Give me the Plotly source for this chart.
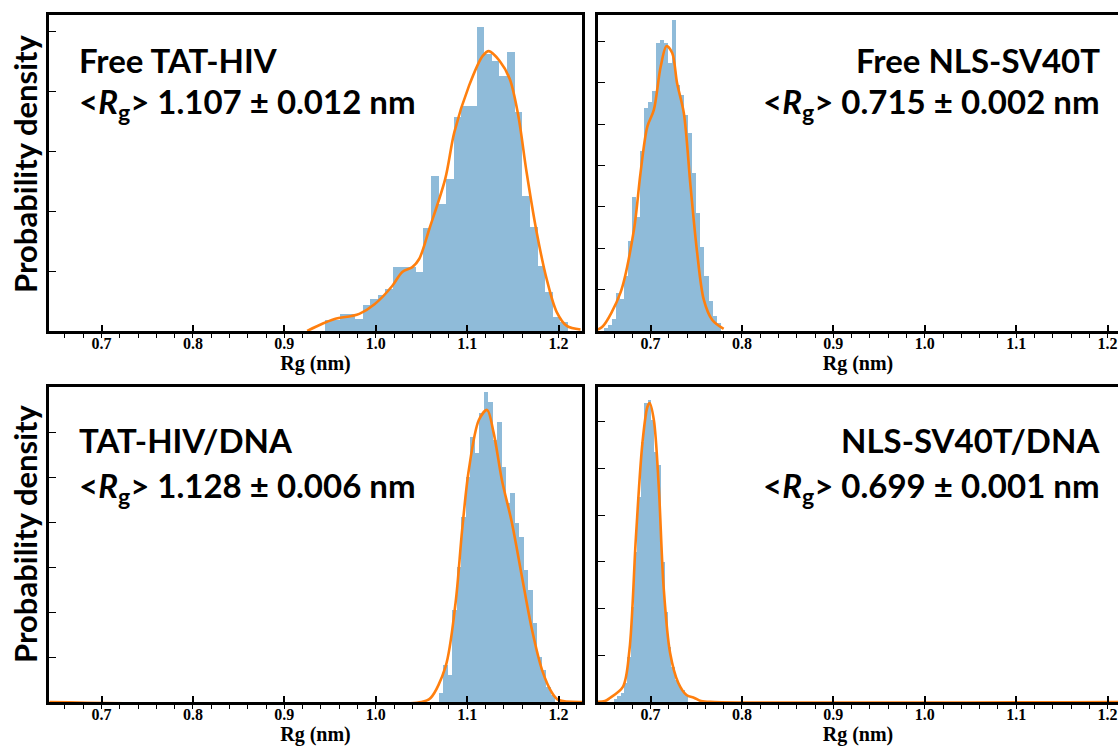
import plotly.graph_objects as go

W, H = 1118, 747

# ---------------- data ----------------
# Free TAT-HIV histogram (density)
tl_bin_start = 0.944
tl_bin_width = 0.00832
tl_heights = [0.37, 0.37, 0.57, 0.57, 0.40, 0.87, 1.07, 1.20, 1.40, 2.13, 2.13, 2.13,
              1.97, 3.43, 5.17, 4.23, 5.07, 7.13, 7.50, 7.50, 10.13, 9.23, 9.00, 8.50,
              9.30, 7.30, 4.50, 3.47, 2.17, 1.30, 0.47, 0.30]
tl_kde_x = [0.925, 0.935, 0.955, 0.9735, 0.982, 0.999, 1.018, 1.029, 1.040, 1.0475, 1.0586,
            1.076, 1.086, 1.102, 1.117, 1.1238, 1.1356, 1.1466, 1.156, 1.165, 1.176, 1.187,
            1.198, 1.209, 1.224]
tl_kde_y = [0.0, 0.15, 0.40, 0.50, 0.57, 0.90, 1.50, 1.97, 2.13, 2.40, 3.40, 5.07, 6.63,
            8.17, 9.17, 9.33, 9.00, 8.40, 7.17, 5.30, 3.30, 1.73, 0.63, 0.17, 0.05]

# Free NLS-SV40T histogram
tr_bin_start = 0.6490
tr_bin_width = 0.0044
tr_heights = [0.14, 0.29, 0.58, 1.84, 1.55, 2.66, 4.35, 6.47, 5.51, 8.70, 10.77, 11.06,
              11.59, 13.91, 14.06, 13.91, 12.95, 15.02, 11.88, 11.40, 10.43, 9.57, 7.63,
              5.70, 4.06, 2.66, 1.45, 0.72, 0.39]
tr_kde_x = [0.640, 0.647, 0.667, 0.6818, 0.689, 0.6964, 0.7036, 0.711, 0.7175, 0.7237,
            0.729, 0.7364, 0.7438, 0.751, 0.7583, 0.7675, 0.780]
tr_kde_y = [0.05, 0.19, 1.84, 4.88, 7.63, 9.86, 10.68, 12.75, 13.77, 13.43, 11.98, 10.53,
            6.96, 3.77, 1.50, 0.53, 0.10]

# TAT-HIV/DNA histogram
bl_bin_start = 1.069
bl_bin_width = 0.0049
bl_heights = [0.40, 1.64, 1.20, 4.09, 6.00, 8.22, 10.00, 11.78, 11.07, 12.84, 13.78, 13.33,
              11.64, 12.44, 10.44, 8.84, 9.29, 7.96, 7.33, 5.87, 4.98, 3.51, 2.00, 1.42,
              0.67, 0.31]
bl_kde_x = [0.643, 1.050, 1.060, 1.0763, 1.0873, 1.0945, 1.1018, 1.1128, 1.1218, 1.129,
            1.138, 1.149, 1.160, 1.171, 1.182, 1.193, 1.200, 1.230]
bl_kde_y = [0.0, 0.0, 0.18, 1.56, 4.40, 7.64, 10.31, 12.53, 12.98, 11.96, 9.87, 7.96, 5.56,
            3.20, 1.42, 0.40, 0.09, 0.0]

# NLS-SV40T/DNA histogram
br_bin_start = 0.6598
br_bin_width = 0.0037
br_heights = [0.32, 0.64, 0.96, 2.03, 4.82, 10.17, 16.06, 21.95, 27.84, 32.01, 32.33, 30.19,
              26.77, 25.37, 14.99, 9.64, 5.89, 3.75, 2.36, 1.82, 1.28, 0.75]
br_kde_x = [0.640, 0.650, 0.6555, 0.6697, 0.6769, 0.684, 0.6911, 0.6965, 0.699, 0.7036,
            0.709, 0.7143, 0.7214, 0.7304, 0.7393, 0.748, 0.7553, 0.770, 1.230]
br_kde_y = [0.0, 0.10, 0.43, 1.61, 5.57, 17.67, 27.73, 31.58, 32.01, 30.19, 23.02, 12.31,
            5.25, 2.03, 0.75, 0.43, 0.10, 0.0, 0.0]

titles = ["Free TAT-HIV", "Free NLS-SV40T", "TAT-HIV/DNA", "NLS-SV40T/DNA"]
rg_means = ["1.107", "0.715", "1.128", "0.699"]
rg_errs = ["0.012", "0.002", "0.006", "0.001"]
x_tick_vals = [0.7, 0.8, 0.9, 1.0, 1.1, 1.2]
x_tick_text = ["0.7", "0.8", "0.9", "1.0", "1.1", "1.2"]

# ---------------- styling ----------------
BAR_COLOR = "rgba(31,119,180,0.5)"
KDE_COLOR = "#ff7f0e"
SANS = "Lato"
SERIF = "Liberation Serif"


def px_x(p):
    return p / W


def px_y(p):
    return 1 - p / H


left_dom = [px_x(49), px_x(582)]
right_dom = [px_x(598), 1.0]
top_dom = [px_y(331), px_y(15)]
bot_dom = [px_y(702), px_y(387)]

x_left_range = [0.6425, 0.6425 + (582 - 49) / 914]
x_right_range = [0.6425, 0.6425 + (W - 598) / 914]

panels = [
    (tl_heights, tl_bin_start, tl_bin_width, tl_kde_x, tl_kde_y, left_dom, top_dom,
     x_left_range, [0, 316 / 30.0], 2, False),
    (tr_heights, tr_bin_start, tr_bin_width, tr_kde_x, tr_kde_y, right_dom, top_dom,
     x_right_range, [0, 316 / 20.7], 2, True),
    (bl_heights, bl_bin_start, bl_bin_width, bl_kde_x, bl_kde_y, left_dom, bot_dom,
     x_left_range, [0, 315 / 22.5], 2, False),
    (br_heights, br_bin_start, br_bin_width, br_kde_x, br_kde_y, right_dom, bot_dom,
     x_right_range, [0, 315 / 9.34], 5, True),
]

fig = go.Figure()
layout = {}
for i, (hts, start, width, kx, ky, xdom, ydom, xr, yr, dt, is_right) in enumerate(panels):
    n = i + 1
    xa = "x" if n == 1 else f"x{n}"
    ya = "y" if n == 1 else f"y{n}"
    centers = [start + width * (k + 0.5) for k in range(len(hts))]
    fig.add_trace(go.Bar(x=centers, y=hts, width=[width] * len(hts), marker_color=BAR_COLOR,
                         marker_line_width=0, xaxis=xa, yaxis=ya, showlegend=False))
    fig.add_trace(go.Scatter(x=kx, y=ky, mode="lines",
                             line=dict(color=KDE_COLOR, width=2.6, shape="spline", smoothing=0.9),
                             xaxis=xa, yaxis=ya, showlegend=False, cliponaxis=True))
    xkey = "xaxis" if n == 1 else f"xaxis{n}"
    ykey = "yaxis" if n == 1 else f"yaxis{n}"
    layout[xkey] = dict(
        domain=xdom, range=xr, anchor=ya, showgrid=False, zeroline=False,
        showline=True, linewidth=3, linecolor="black", mirror=True,
        tickmode="array", tickvals=x_tick_vals, ticktext=x_tick_text,
        ticks="inside", ticklen=6, tickwidth=1.5, tickcolor="black",
        minor=dict(ticks="outside", dtick=0.02, tick0=0.6, ticklen=4, tickwidth=1,
                   tickcolor="black", showgrid=False),
        tickfont=dict(family=SERIF, size=16, color="black", weight="bold"),
        ticklabelstandoff=-4,
        title=dict(text="Rg (nm)", font=dict(family=SERIF, size=20, color="black", weight="bold"),
                   standoff=0),
    )
    layout[ykey] = dict(
        domain=ydom, range=yr, anchor=xa, showgrid=False, zeroline=False,
        showline=True, linewidth=3, linecolor="black", mirror=not is_right,
        ticks="inside", ticklen=7, tickwidth=1.2, tickcolor="black", dtick=dt, tick0=0,
        showticklabels=False,
    )

annotations = []
text_font = dict(family=SANS, size=33, color="black", weight="bold")
for i in range(4):
    is_right = i % 2 == 1
    top = i < 2
    y1 = 60 if top else 440
    y2 = 104 if top else 487
    x_px = 1102 if is_right else 77
    anchor = "right" if is_right else "left"
    line2 = f"&lt;<i>R</i><sub>g</sub>&gt; {rg_means[i]} ± {rg_errs[i]} nm"
    annotations.append(dict(x=px_x(x_px), y=px_y(y1), xref="paper", yref="paper",
                            text=titles[i], showarrow=False, xanchor=anchor, yanchor="middle",
                            font=text_font))
    annotations.append(dict(x=px_x(x_px), y=px_y(y2), xref="paper", yref="paper",
                            text=line2, showarrow=False, xanchor=anchor, yanchor="middle",
                            font=text_font))

for yc in (164, 534):
    annotations.append(dict(x=px_x(25), y=px_y(yc), xref="paper", yref="paper",
                            text="Probability density", textangle=-90, showarrow=False,
                            xanchor="center", yanchor="middle",
                            font=dict(family=SANS, size=31, color="black", weight="bold")))

fig.update_layout(
    width=W, height=H, margin=dict(l=0, r=0, t=0, b=0),
    paper_bgcolor="white", plot_bgcolor="white", bargap=0, barmode="overlay",
    annotations=annotations, **layout,
)

fig.write_html("out.html")
